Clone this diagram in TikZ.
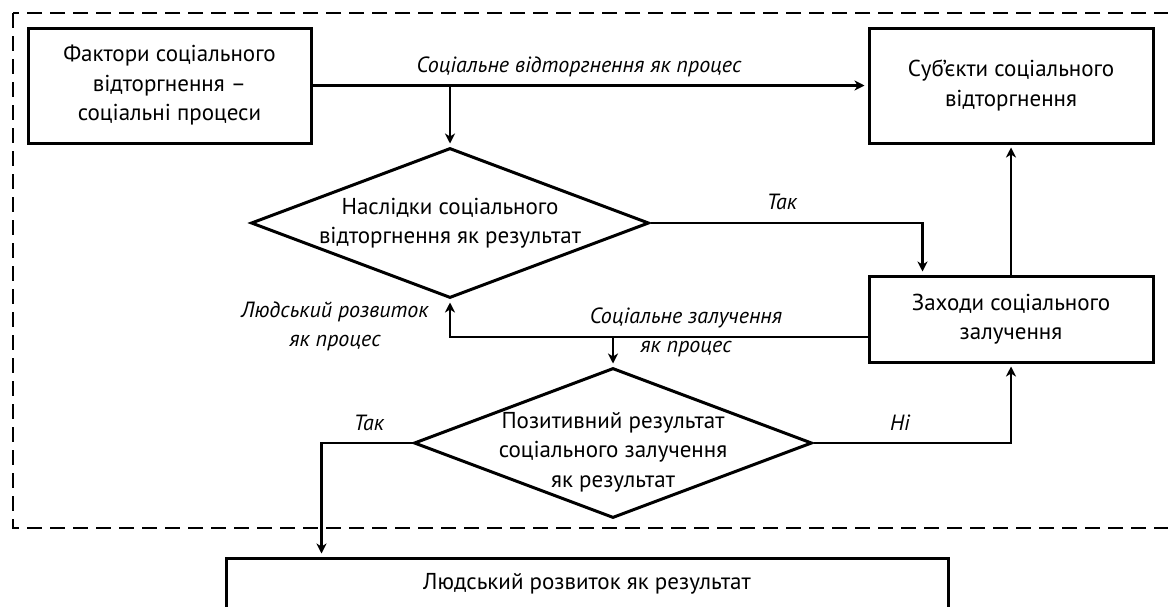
\documentclass[tikz,border=0pt]{standalone}
\usepackage{fontspec}
\setmainfont{PT Sans}
\usetikzlibrary{shapes.geometric,arrows.meta}

\begin{document}
\begin{tikzpicture}[x=1pt,y=-1pt,
  box/.style={draw,line width=3pt,minimum width=284pt,align=center,font=\fontsize{23}{29.5}\selectfont},
  decision/.style={draw,diamond,line width=3pt,minimum width=398pt,minimum height=150pt,inner sep=0pt},
  txt/.style={align=center,font=\fontsize{23}{29.5}\selectfont},
  lbl/.style={align=center,font=\fontsize{22}{29}\selectfont\itshape},
  link/.style={line width=2.2pt},
  arr/.style={link,-{Stealth[length=10pt,width=10pt,inset=3pt]},shorten >=3pt}]
\useasboundingbox (0,0) rectangle (1168,606);
\clip (0,0) rectangle (1168,606);
\draw[line width=2pt,dash pattern=on 15pt off 8pt] (13,13) rectangle (1180,528);
\node[box,minimum width=283pt,minimum height=115pt] (F) at (169.5,85.5) {Фактори соціального\\відторгнення –\\соціальні процеси};
\node[box,minimum height=115pt] (S) at (1011,85.5) {Суб’єкти соціального\\відторгнення};
\node[box,minimum height=86pt] (Z) at (1011,319) {Заходи соціального\\залучення};
\node[box,minimum width=722pt,minimum height=52pt] (H) at (587,584) {Людський розвиток як результат};
\node[decision] (D1) at (450,223) {};
\node[txt] (D1t) at (D1) {Наслідки соціального\\відторгнення як результат};
\node[decision] (D2) at (613,443) {};
\node[txt] (D2t) at ([yshift=-9pt]D2) {Позитивний результат\\соціального залучення\\як результат};
\coordinate (J1) at (D1.north |- F.east);
\coordinate (Z1) at ([xshift=55pt]Z.north west);
\coordinate (Z2) at ([yshift=-18pt]Z.west);
\coordinate (J2) at (D2.north |- Z2);
\coordinate (H1) at ([xshift=97pt]H.north west);
\draw[arr] (F.east) -- (S.west);
\draw[arr] (J1) -- (D1.north);
\draw[arr] (D1.east) -| (Z1);
\draw[arr] (Z.north) -- (S.south);
\draw[arr] (Z2) -| (D1.south);
\draw[arr] (J2) -- (D2.north);
\draw[arr] (D2.west) -| (H1);
\draw[arr] (D2.east) -| (Z.south);
\node[lbl] (l1) at (579,67) {Соціальне відторгнення як процес};
\node[lbl] (l2) at (782,202) {Так};
\node[lbl] (l3) at (335,326) {Людський розвиток\\як процес};
\node[lbl] (l4) at (686,332) {Соціальне залучення\\як процес};
\node[lbl] (l5) at (369,423) {Так};
\node[lbl] (l6) at (900,423) {Ні};
\end{tikzpicture}
\end{document}
